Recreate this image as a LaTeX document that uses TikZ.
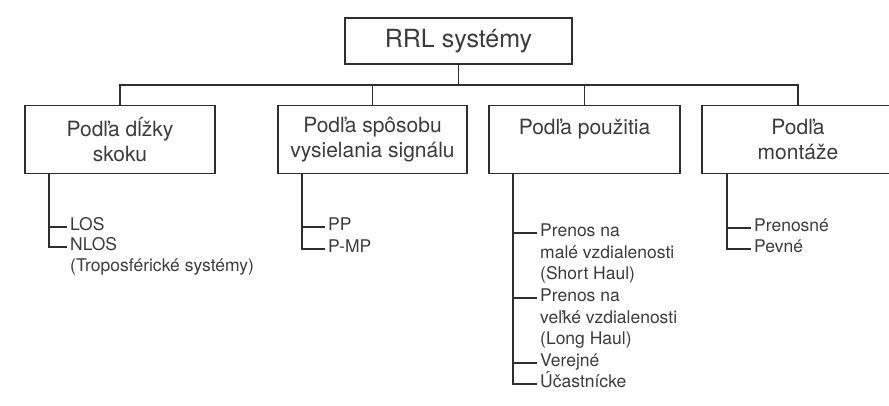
\documentclass[tikz,border=0pt]{standalone}
\usepackage{fontspec}
\setmainfont{TeX Gyre Heros}
\definecolor{linegray}{HTML}{2E2E2E}
\definecolor{textgray}{HTML}{3C3C3C}
\begin{document}
\begin{tikzpicture}[x=1pt,y=-1pt,
  ink/.style={draw=linegray, line width=1.6pt},
  rootbox/.style={ink, minimum width=227pt, minimum height=46pt, inner sep=0pt,
    font=\fontsize{25}{30}\selectfont, text=textgray},
  catbox/.style={ink, minimum height=68pt, inner sep=0pt, align=center,
    font=\fontsize{21}{25}\selectfont, text=textgray},
  leaf/.style={anchor=west, inner xsep=3pt, inner ysep=0pt, text height=0.72em, text depth=0pt,
    font=\fontsize{17.5}{21.5}\selectfont, text=textgray},
  link/.style={draw=linegray, line width=1.5pt}]
  \fill[white] (0,0) rectangle (889,405);
  \useasboundingbox (0,0) rectangle (889,405);

  % root and the four categories
  \node[rootbox] (root) at (458.5,41) {RRL systémy};
  \node[catbox, minimum width=190pt] (c1) at (120,139.5) {Podľa dĺžky\\skoku};
  \node[catbox, minimum width=189pt] (c2) at (372.5,139.5) {Podľa spôsobu\\vysielania signálu};
  \node[catbox, minimum width=191pt] (c3) at (584.5,139.5) {Podľa použitia\\\phantom{skoku}};
  \node[catbox, minimum width=192pt] (c4) at (798,139.5) {Podľa\\montáže};

  % bus between root and categories
  \coordinate (bus) at (458.5,85);
  \draw[link] (root.south) -- (bus);
  \draw[link] (c1.north) -- (c1.north |- bus) -| (c4.north);
  \draw[link] (c2.north) -- (c2.north |- bus);
  \draw[link] (c3.north) -- (c3.north |- bus);

  % leaves: hop length
  \node[leaf] (l1a) at (67,227) {LOS};
  \node[leaf] (l1b) at (67,247) {NLOS};
  \node[leaf] (l1c) at ([yshift=-21pt]l1b.west) {(Troposférické systémy)};
  \coordinate (s1) at (c1.south -| 49,0);
  \draw[link] (s1) |- (l1b.west);
  \draw[link] (s1 |- l1a.west) -- (l1a.west);

  % leaves: transmission mode
  \node[leaf] (l2a) at (325,227) {PP};
  \node[leaf] (l2b) at (325,249) {P-MP};
  \coordinate (s2) at (c2.south -| 302,0);
  \draw[link] (s2) |- (l2b.west);
  \draw[link] (s2 |- l2a.west) -- (l2a.west);

  % leaves: usage
  \node[leaf] (u1) at (537,233) {Prenos na};
  \node[leaf] (u1b) at ([yshift=-21.5pt]u1.west) {malé vzdialenosti};
  \node[leaf] (u1c) at ([yshift=-21.5pt]u1b.west) {(Short Haul)};
  \node[leaf] (u2) at (537,298) {Prenos na};
  \node[leaf] (u2b) at ([yshift=-21.5pt]u2.west) {veľké vzdialenosti};
  \node[leaf] (u2c) at ([yshift=-21.5pt]u2b.west) {(Long Haul)};
  \node[leaf] (u3) at (537,363) {Verejné};
  \node[leaf] (u4) at (537,384) {Účastnícke};
  \coordinate (s3) at (c3.south -| 513,0);
  \draw[link] (s3) |- (u4.west);
  \draw[link] (s3 |- u1.west) -- (u1.west);
  \draw[link] (s3 |- u2.west) -- (u2.west);
  \draw[link] (s3 |- u3.west) -- (u3.west);

  % leaves: mounting
  \node[leaf] (m1) at (751,228) {Prenosné};
  \node[leaf] (m2) at (751,249) {Pevné};
  \coordinate (s4) at (c4.south -| 727,0);
  \draw[link] (s4) |- (m2.west);
  \draw[link] (s4 |- m1.west) -- (m1.west);
\end{tikzpicture}
\end{document}
